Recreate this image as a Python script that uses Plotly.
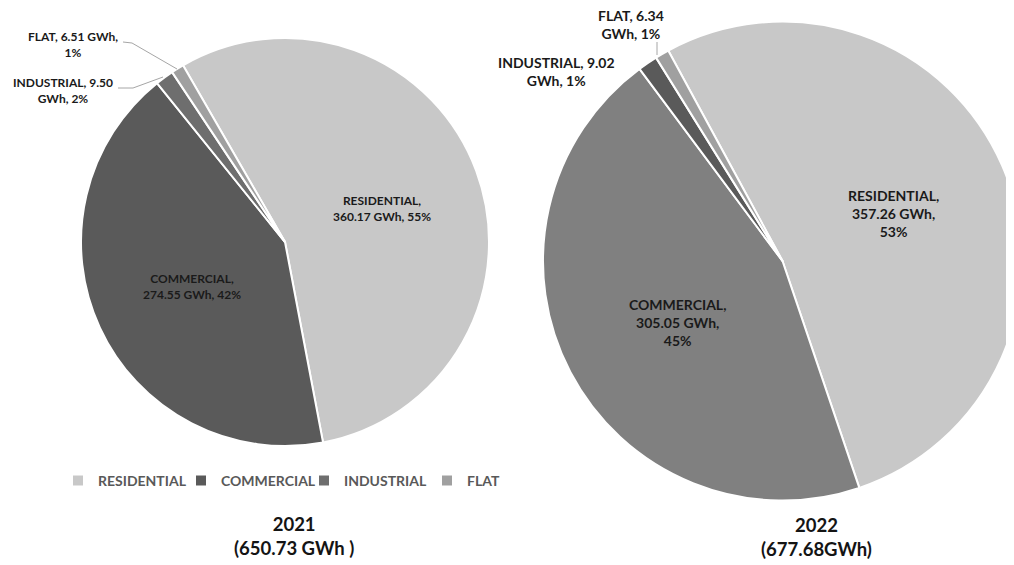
import plotly.graph_objects as go

# ---------------- data ----------------
categories = ["RESIDENTIAL", "COMMERCIAL", "INDUSTRIAL", "FLAT"]
gwh_2021 = [360.17, 274.55, 9.50, 6.51]
pct_2021 = [55, 42, 2, 1]
gwh_2022 = [357.26, 305.05, 9.02, 6.34]
pct_2022 = [53, 45, 1, 1]
year_2021 = "2021"
year_2022 = "2022"
total_2021 = "650.73 GWh "
total_2022 = "677.68GWh"

# ---------------- styles ----------------
colors_2021 = ["#C8C8C8", "#5A5A5A", "#6E6E6E", "#A0A0A0"]
colors_2022 = ["#C8C8C8", "#808080", "#5A5A5A", "#A0A0A0"]
FONT = "Lato, Roboto, sans-serif"
W, H = 1014, 565
OFF = 8  # page body margin


def px(x):
    return (x - OFF) / W


def py(y):
    return 1 - (y - OFF) / H


fig = go.Figure()

fig.add_trace(go.Pie(
    labels=categories, values=gwh_2021, sort=False, direction="clockwise",
    rotation=-30, textinfo="none", hole=0,
    marker=dict(colors=colors_2021, line=dict(color="white", width=2)),
    domain=dict(x=[px(81), px(489)], y=[py(446), py(38)]),
    showlegend=True, name=year_2021,
))

fig.add_trace(go.Pie(
    labels=categories, values=gwh_2022, sort=False, direction="clockwise",
    rotation=-28.5, textinfo="none", hole=0,
    marker=dict(colors=colors_2022, line=dict(color="white", width=2)),
    domain=dict(x=[px(543), 1.0], y=[py(500.5), py(21.5)]),
    showlegend=False, name=year_2022,
))

lab_color = "#1A1A1A"

# data labels
labels_2021 = [
    (f"{categories[0]},<br>{gwh_2021[0]:.2f} GWh, {pct_2021[0]}%", 382, 208),
    (f"{categories[1]},<br>{gwh_2021[1]:.2f} GWh, {pct_2021[1]}%", 192, 287),
    (f"{categories[2]}, {gwh_2021[2]:.2f}<br>GWh, {pct_2021[2]}%", 63, 91),
    (f"{categories[3]}, {gwh_2021[3]:.2f} GWh,<br>{pct_2021[3]}%", 73, 44),
]
labels_2022 = [
    (f"{categories[0]},<br>{gwh_2022[0]:.2f} GWh,<br>{pct_2022[0]}%", 893, 213),
    (f"{categories[1]},<br>{gwh_2022[1]:.2f} GWh,<br>{pct_2022[1]}%", 677, 322),
    (f"{categories[2]}, {gwh_2022[2]:.2f}<br>GWh, {pct_2022[2]}%", 556, 71),
    (f"{categories[3]}, {gwh_2022[3]:.2f}<br>GWh, {pct_2022[3]}%", 631, 24),
]

for txt, x, y in labels_2021:
    fig.add_annotation(text=txt, x=px(x), y=py(y), xref="paper", yref="paper",
                       showarrow=False, xanchor="center", yanchor="middle",
                       align="center",
                       font=dict(family=FONT, size=12, color=lab_color, weight="bold"))
for txt, x, y in labels_2022:
    fig.add_annotation(text=txt, x=px(x), y=py(y), xref="paper", yref="paper",
                       showarrow=False, xanchor="center", yanchor="middle",
                       align="center",
                       font=dict(family=FONT, size=14, color=lab_color, weight="bold"))

# leader lines
leaders = [
    [(123, 42), (132, 43), (177, 69)],
    [(118, 88), (133, 88), (163, 77)],
    [(657, 42), (657, 55)],
]
for pts in leaders:
    for (x0, y0), (x1, y1) in zip(pts[:-1], pts[1:]):
        fig.add_shape(type="line", xref="paper", yref="paper",
                      x0=px(x0), y0=py(y0), x1=px(x1), y1=py(y1),
                      line=dict(color="#A6A6A6", width=1))

# titles
fig.add_annotation(text=f"{year_2021}<br>({total_2021})", x=px(294), y=py(536),
                   xref="paper", yref="paper", showarrow=False, align="center",
                   xanchor="center", yanchor="middle",
                   font=dict(family=FONT, size=18.5, color="#141414", weight="bold"))
fig.add_annotation(text=f"{year_2022}<br>({total_2022})", x=px(816), y=py(537),
                   xref="paper", yref="paper", showarrow=False, align="center",
                   xanchor="center", yanchor="middle",
                   font=dict(family=FONT, size=18.5, color="#141414", weight="bold"))

fig.update_layout(
    width=W, height=H,
    margin=dict(l=0, r=0, t=0, b=0),
    paper_bgcolor="white", plot_bgcolor="white",
    legend=dict(orientation="h", x=px(58), y=py(481), xanchor="left", yanchor="middle",
                entrywidth=78, entrywidthmode="pixels",
                font=dict(family=FONT, size=14, color="#595959", weight="bold"),
                bgcolor="rgba(0,0,0,0)"),
)

fig.write_html("out.html")
